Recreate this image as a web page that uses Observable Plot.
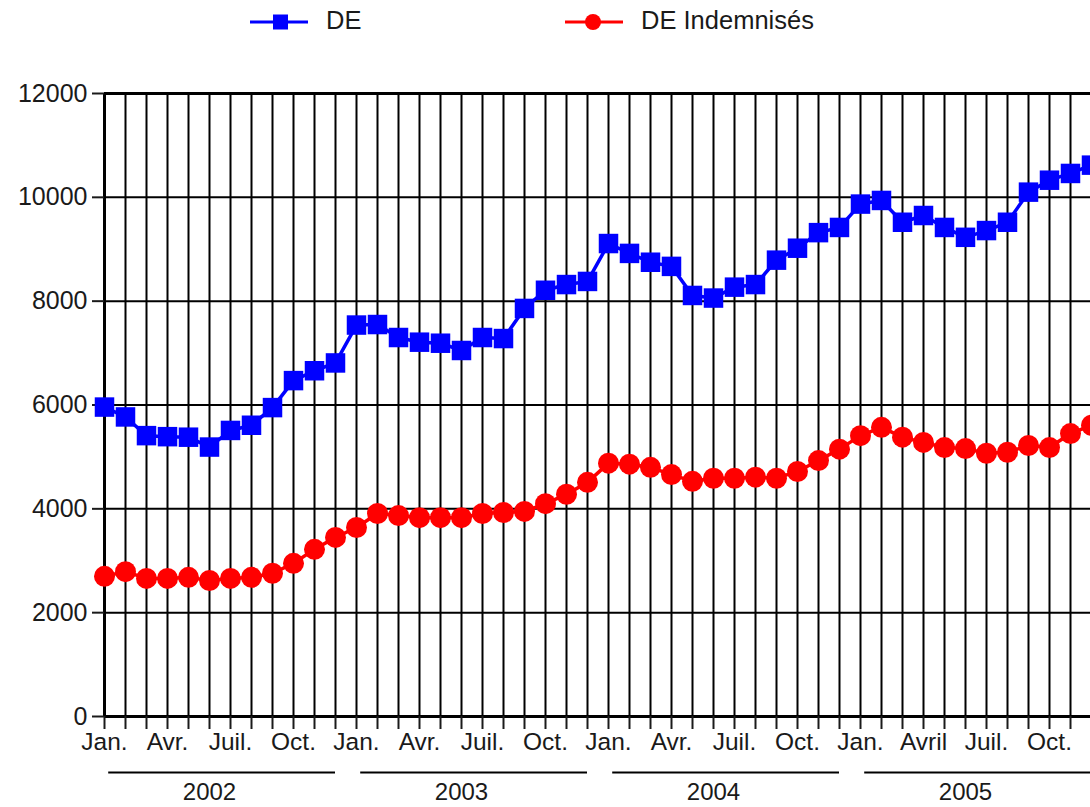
<!DOCTYPE html>
<html>
<head>
<meta charset="utf-8">
<script src="https://cdn.jsdelivr.net/npm/d3@7"></script>
<script src="https://cdn.jsdelivr.net/npm/@observablehq/plot@0.6"></script>
<style>
  html, body { margin: 0; padding: 0; background: #fff; overflow: hidden; width: 1090px; height: 807px; }
  body { font-family: "Liberation Sans", Arial, Helvetica, sans-serif; color: #1a1a1a; }
  #legend { position: relative; height: 45px; width: 1090px; }
  #legend .lbl { font-size: 25.5px; position: absolute; top: 6px; white-space: nowrap; }
  #chart svg { max-width: none !important; }
</style>
</head>
<body>
<div id="legend"></div>
<div id="chart"></div>
<script>
// ---- Data ----
const deValues = [5960, 5770, 5410, 5390, 5380, 5190, 5510, 5610, 5950, 6470, 6660, 6810,
                  7540, 7550, 7300, 7210, 7190, 7050, 7300, 7280, 7860, 8210, 8320, 8380,
                  9110, 8920, 8750, 8670, 8110, 8060, 8270, 8320, 8790, 9020, 9320, 9420,
                  9870, 9940, 9520, 9650, 9420, 9230, 9360, 9520, 10100, 10330, 10460, 10620];
const indemValues = [2700, 2790, 2660, 2660, 2680, 2620, 2660, 2680, 2760, 2950, 3220, 3450,
                     3640, 3910, 3870, 3830, 3830, 3830, 3910, 3930, 3950, 4100, 4280, 4510,
                     4880, 4860, 4800, 4660, 4530, 4590, 4590, 4610, 4590, 4720, 4930, 5150,
                     5410, 5570, 5380, 5280, 5180, 5160, 5070, 5090, 5220, 5180, 5450, 5610];
const years = [2002, 2003, 2004, 2005];
const quarterLabels = ["Jan.", "Avr.", "Juil.", "Oct.",
                       "Jan.", "Avr.", "Juil.", "Oct.",
                       "Jan.", "Avr.", "Juil.", "Oct.",
                       "Jan.", "Avril", "Juil.", "Oct."];
const yTicks = [0, 2000, 4000, 6000, 8000, 10000, 12000];
const seriesNames = ["DE", "DE Indemnisés"];
const seriesColors = ["#0000ff", "#ff0000"];

// ---- Tables built from the arrays ----
const monthIdx = deValues.map((_, i) => i);
const deData = deValues.map((v, i) => ({i, v}));
const indemData = indemValues.map((v, i) => ({i, v}));
const yearData = years.map((y, k) => ({year: y, start: k * 12}));

// ---- Legend (HTML) ----
const legend = document.getElementById("legend");
legend.innerHTML = `
  <svg style="position:absolute;left:248px;top:12px" width="62" height="20">
    <line x1="2" y1="10" x2="60" y2="10" stroke="${seriesColors[0]}" stroke-width="3"/>
    <rect x="25" y="2.5" width="15" height="15" fill="${seriesColors[0]}"/>
  </svg>
  <div class="lbl" style="left:326px">${seriesNames[0]}</div>
  <svg style="position:absolute;left:563px;top:12px" width="62" height="20">
    <line x1="2" y1="10" x2="60" y2="10" stroke="${seriesColors[1]}" stroke-width="3"/>
    <circle cx="30" cy="10" r="8" fill="${seriesColors[1]}"/>
  </svg>
  <div class="lbl" style="left:641px">${seriesNames[1]}</div>`;

// ---- Chart ----
const W = 1130, H = 762;
const chart = Plot.plot({
  width: W,
  height: H,
  marginLeft: 104,
  marginRight: 28.5,
  marginTop: 48,
  marginBottom: 91,
  x: {type: "linear", domain: [0, 47.5], axis: null},
  y: {domain: [0, 12000], axis: null},
  style: {fontFamily: '"Liberation Sans", Arial, Helvetica, sans-serif', fontSize: "24px", color: "#1a1a1a", background: "white", overflow: "visible", maxWidth: "none"},
  marks: [
    Plot.ruleX(monthIdx, {stroke: "black", strokeWidth: 2}),
    Plot.ruleY(yTicks, {stroke: "black", strokeWidth: 2}),
    Plot.ruleY([12000], {stroke: "black", strokeWidth: 3}),
    Plot.ruleY([0], {stroke: "black", strokeWidth: 3}),
    Plot.ruleX([0], {stroke: "black", strokeWidth: 3}),
    Plot.axisY({ticks: yTicks, tickSize: 12, tickPadding: 5, tickFormat: d => String(d), label: null, fontSize: 25, strokeWidth: 2}),
    Plot.axisX({ticks: monthIdx, tickSize: 13, tickPadding: 3, tickFormat: i => (i % 3 === 0 ? quarterLabels[i / 3] : ""), label: null, fontSize: 24.5, strokeWidth: 2}),
    Plot.ruleY(yearData, {x1: d => d.start + 0.2, x2: d => d.start + 11, y: () => 0, dy: 56, stroke: "black", strokeWidth: 2}),
    Plot.text(yearData, {x: d => d.start + 5, y: () => 0, dy: 76, text: d => String(d.year), fontSize: 24, fill: "#1a1a1a"}),
    Plot.line(deData, {x: "i", y: "v", stroke: seriesColors[0], strokeWidth: 3.5}),
    Plot.dot(deData, {x: "i", y: "v", symbol: "square", r: 11, fill: seriesColors[0], stroke: "none"}),
    Plot.line(indemData, {x: "i", y: "v", stroke: seriesColors[1], strokeWidth: 3.5}),
    Plot.dot(indemData, {x: "i", y: "v", symbol: "circle", r: 10.5, fill: seriesColors[1], stroke: "none"})
  ]
});
chart.style.maxWidth = "none";
document.getElementById("chart").appendChild(chart);
</script>
</body>
</html>
